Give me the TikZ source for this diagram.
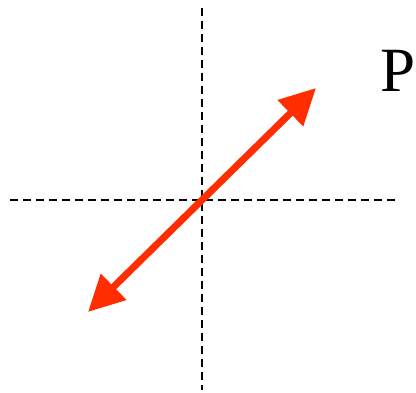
\documentclass[tikz,border=0pt]{standalone}
\usepackage{fontspec}
\setmainfont{Liberation Serif}
\usetikzlibrary{arrows.meta}
\definecolor{arrred}{RGB}{255,45,0}
\tikzset{
  axis/.style={black, line width=2pt, dash pattern=on 8pt off 5pt},
  vec/.style={arrred, line width=7pt, {Triangle[length=36pt,width=35pt]}-{Triangle[length=36pt,width=35pt]}},
}
\begin{document}
\begin{tikzpicture}[x=1pt,y=1pt]
\useasboundingbox (0,0) rectangle (416,393);
\coordinate (vt) at (202,385);
\coordinate (vb) at (202,3);
\coordinate (hl) at (10,193);
\coordinate (hr) at (395,193);
\coordinate (a) at (88,81);
\coordinate (b) at (316,305);
\draw[axis] (vt) -- (vb);
\draw[axis] (hl) -- (hr);
\draw[vec] (a) -- (b);
\node[anchor=base west, inner sep=0pt, font=\fontsize{63}{63}\selectfont] (p) at (380,301) {P};
\end{tikzpicture}
\end{document}
